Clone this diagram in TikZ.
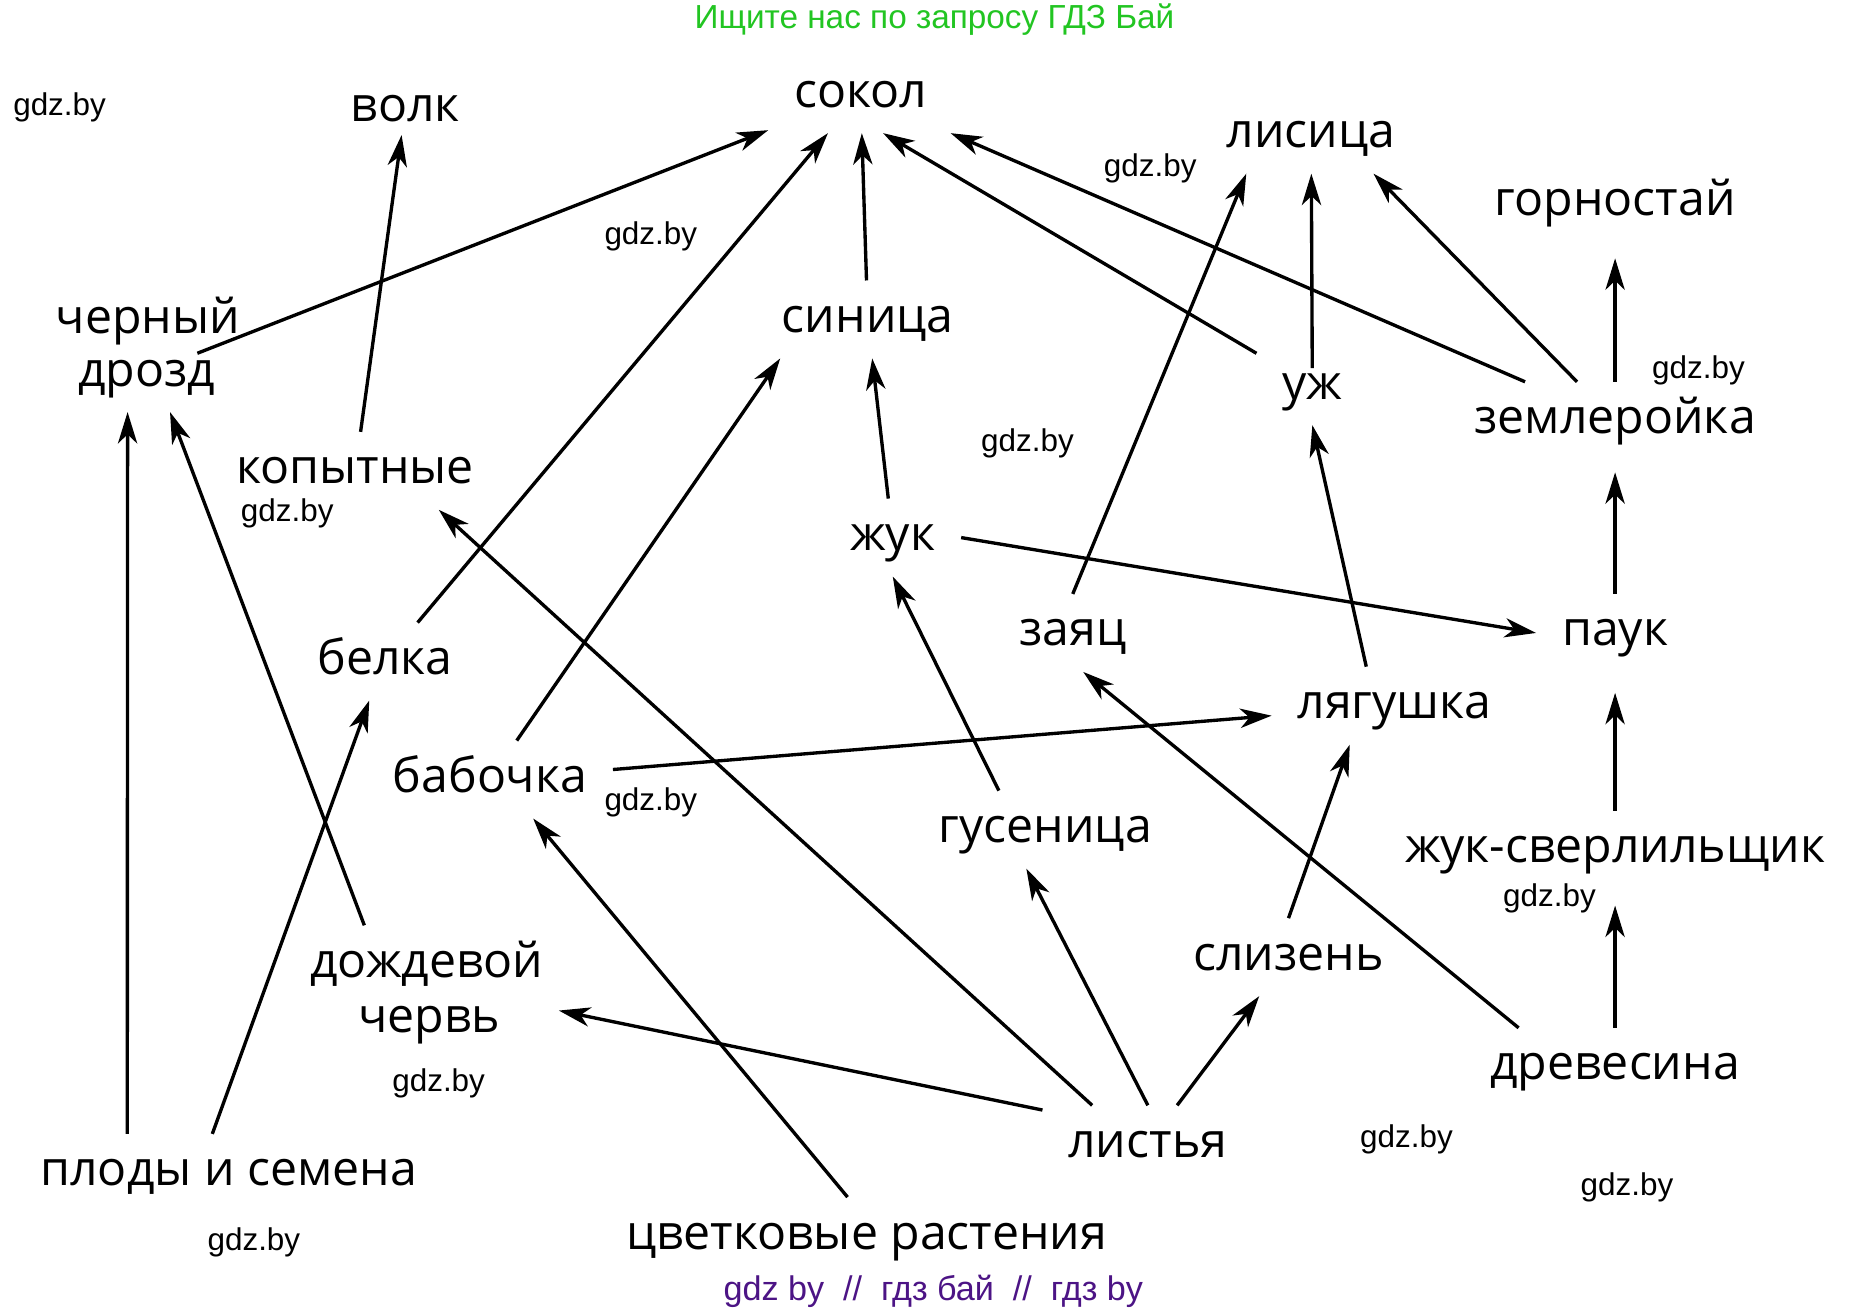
\documentclass[tikz,border=0pt]{standalone}
\usepackage{fontspec}
\setmainfont{Open Sans}
\newfontfamily\wmfont{Liberation Sans}
\usetikzlibrary{arrows.meta}
\definecolor{hdrgreen}{RGB}{34,197,34}
\definecolor{ftrpurple}{RGB}{76,20,133}

\begin{document}
\begin{tikzpicture}[x=0.01cm,y=-0.01cm,
  lbl/.style={font=\fontsize{11.5}{11.5}\selectfont,inner sep=6pt,text height=6.2pt,text depth=0pt},
  wm/.style={font=\wmfont\fontsize{7.5}{9}\selectfont,inner sep=0pt},
  arr/.style={-{Stealth[length=7.5pt,width=4.6pt,inset=2.2pt]},line width=0.8pt}]
\useasboundingbox (0,0) rectangle (1568,1102);
\draw (784,24) node[anchor=base,font=\wmfont\fontsize{7.95}{9}\selectfont,text=hdrgreen] (header) {Ищите нас по запросу ГДЗ Бай};
\draw (783,1083) node[font=\wmfont\fontsize{8.15}{9}\selectfont,text=ftrpurple] (footer) {gdz by\ \ //\ \ гдз бай\ \ //\ \ гдз by};

\draw (722,79) node[lbl] (sokol) {сокол};
\draw (340,91) node[lbl] (volk) {волк};
\draw (1100,113) node[lbl] (lisica) {лисица};
\draw (1355,170) node[lbl] (gornostaj) {горностай};
\draw (124,269) node[lbl] (chern) {черный};
\draw (123,313) node[lbl] (drozd) {дрозд};
\draw (728,268) node[lbl] (sinica) {синица};
\draw (1101,324) node[lbl] (uzh) {уж};
\draw (1355,353) node[lbl] (zemlerojka) {землеройка};
\draw (298,395) node[lbl] (kopytnye) {копытные};
\draw (749,451) node[lbl] (zhuk) {жук};
\draw (900,531) node[lbl] (zayac) {заяц};
\draw (1355,531) node[lbl] (pauk) {паук};
\draw (323,555) node[lbl] (belka) {белка};
\draw (1170,592) node[lbl] (lyagushka) {лягушка};
\draw (411,654) node[lbl] (babochka) {бабочка};
\draw (877,696) node[lbl] (gusenica) {гусеница};
\draw (1355,713) node[lbl] (zhuksv) {жук-сверлильщик};
\draw (1081,803) node[lbl] (slizen) {слизень};
\draw (358,809) node[lbl] (dozhd) {дождевой};
\draw (360,855) node[lbl] (cherv) {червь};
\draw (1355,895) node[lbl] (drevesina) {древесина};
\draw (963,960) node[lbl] (listya) {листья};
\draw (192,984) node[lbl] (plody) {плоды и семена};
\draw (727,1037) node[lbl] (cvetkovye) {цветковые растения};

\draw (50,90) node[wm] (wm1) {gdz.by};
\draw (546,198) node[wm] (wm2) {gdz.by};
\draw (965,141) node[wm] (wm3) {gdz.by};
\draw (862,372) node[wm] (wm4) {gdz.by};
\draw (241,431) node[wm] (wm5) {gdz.by};
\draw (1425,311) node[wm] (wm6) {gdz.by};
\draw (546,673) node[wm] (wm7) {gdz.by};
\draw (368,909) node[wm] (wm8) {gdz.by};
\draw (1300,754) node[wm] (wm9) {gdz.by};
\draw (1180,956) node[wm] (wm10) {gdz.by};
\draw (1365,996) node[wm] (wm11) {gdz.by};
\draw (213,1042) node[wm] (wm12) {gdz.by};

\draw[arr,shorten <=13pt] (drozd.center) -- (sokol);
\draw[arr,shorten >=-3pt] (kopytnye) -- (volk);
\draw[arr] (belka) -- (sokol);
\draw[arr] (sinica) -- (sokol);
\draw[arr] (babochka) -- (sinica.204);
\draw[arr] (zhuk) -- (sinica);
\draw[arr] (uzh) -- (sokol.300);
\draw[arr] (zemlerojka) -- (sokol);
\draw[arr] (zayac.north) -- (lisica.211);
\draw[arr,shorten <=-5pt] (uzh) -- (lisica);
\draw[arr] (zemlerojka) -- (lisica.328);
\draw[arr,shorten >=4pt] (zemlerojka) -- (gornostaj);
\draw[arr,shorten >=3pt] (pauk) -- (zemlerojka);
\draw[arr] (zhuk.east) -- (pauk.west);
\draw[arr] (lyagushka.126) -- (uzh.south);
\draw[arr] (plody.159) -- (drozd.244);
\draw[arr] (dozhd.148) -- (drozd.301);
\draw[arr] (listya.145) -- (kopytnye.335);
\draw[arr] (plody.113) -- (belka.248);
\draw[arr] (babochka) -- (lyagushka);
\draw[arr] (gusenica.140) -- (zhuk.south);
\draw[arr] (cvetkovye.116) -- (babochka.318);
\draw[arr,shorten >=8pt] (listya.162) -- (cherv.9);
\draw[arr] (listya.north) -- (gusenica.244);
\draw[arr] (listya) -- (slizen);
\draw[arr] (slizen.north) -- (lyagushka.221);
\draw[arr] (drevesina.158) -- (zayac.285);
\draw[arr,shorten >=5pt] (zhuksv) -- (pauk);
\draw[arr,shorten >=4pt] (drevesina) -- (zhuksv);
\end{tikzpicture}
\end{document}
